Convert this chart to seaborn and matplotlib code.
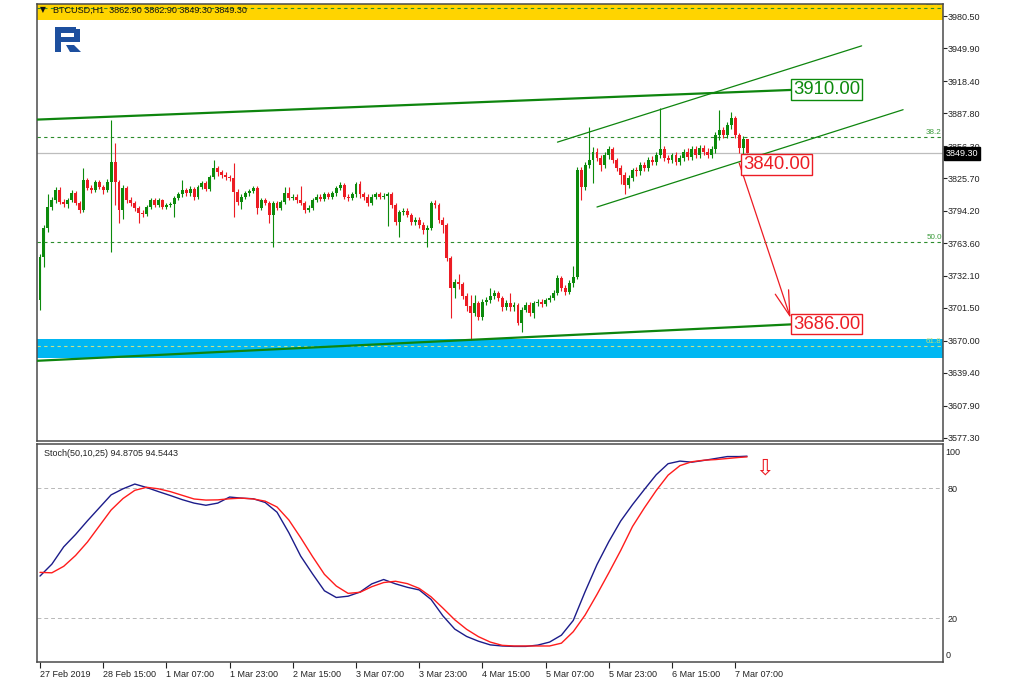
import matplotlib
matplotlib.use("Agg")
import numpy as np
import matplotlib.pyplot as plt
import matplotlib.transforms as mtrans
from matplotlib import font_manager
from matplotlib.patches import Rectangle, Polygon
import seaborn as sns

# ---------------- data ----------------
x_labels = ["27 Feb 2019", "28 Feb 15:00", "1 Mar 07:00", "1 Mar 23:00", "2 Mar 15:00",
            "3 Mar 07:00", "3 Mar 23:00", "4 Mar 15:00", "5 Mar 07:00", "5 Mar 23:00",
            "6 Mar 15:00", "7 Mar 07:00"]
x_label_bars = [0, 16, 32, 48, 64, 80, 96, 112, 128, 144, 160, 176]

first_open = 3709.0
close = [3750, 3778, 3798, 3805, 3814, 3803, 3801, 3805, 3811, 3802,
         3795, 3824, 3816, 3814, 3822, 3817, 3814, 3822, 3841, 3822,
         3795, 3816, 3805, 3802, 3797, 3792, 3791, 3798, 3805, 3800,
         3805, 3798, 3800, 3801, 3807, 3810, 3814, 3811, 3815, 3808,
         3817, 3821, 3815, 3827, 3835, 3831, 3829, 3827, 3826, 3812,
         3803, 3808, 3811, 3813, 3816, 3797, 3805, 3802, 3790, 3802,
         3797, 3803, 3811, 3807, 3808, 3805, 3802, 3795, 3797, 3805,
         3808, 3806, 3810, 3808, 3811, 3816, 3819, 3808, 3807, 3810,
         3820, 3810, 3808, 3802, 3808, 3810, 3808, 3809, 3810, 3800,
         3784, 3793, 3794, 3790, 3784, 3786, 3781, 3776, 3778, 3802,
         3800, 3786, 3781, 3749, 3721, 3726, 3724, 3713, 3703, 3697,
         3706, 3693, 3707, 3709, 3713, 3716, 3711, 3702, 3706, 3702,
         3704, 3687, 3700, 3704, 3697, 3706, 3707, 3705, 3709, 3711,
         3716, 3730, 3721, 3717, 3725, 3731, 3833, 3817, 3838, 3843,
         3851, 3845, 3838, 3848, 3853, 3843, 3835, 3829, 3819, 3826,
         3833, 3832, 3838, 3835, 3843, 3841, 3848, 3853, 3845, 3843,
         3848, 3841, 3845, 3851, 3846, 3853, 3848, 3854, 3851, 3848,
         3853, 3867, 3872, 3867, 3876, 3883, 3867, 3854, 3862.9, 3849.3]
high = [3753, 3781, 3810, 3808, 3817, 3817, 3806, 3807, 3814, 3813,
        3804, 3835, 3826, 3819, 3824, 3824, 3819, 3825, 3881, 3859,
        3824, 3819, 3818, 3808, 3804, 3799, 3795, 3800, 3807, 3807,
        3807, 3806, 3802, 3803, 3809, 3812, 3824, 3816, 3818, 3817,
        3819, 3823, 3823, 3829, 3843, 3837, 3833, 3831, 3829, 3840,
        3815, 3810, 3813, 3815, 3818, 3818, 3807, 3807, 3804, 3804,
        3804, 3805, 3817, 3817, 3810, 3810, 3818, 3804, 3800, 3807,
        3810, 3810, 3812, 3812, 3813, 3818, 3822, 3821, 3810, 3812,
        3822, 3823, 3812, 3810, 3810, 3812, 3812, 3811, 3812, 3812,
        3802, 3795, 3797, 3797, 3792, 3788, 3788, 3784, 3781, 3804,
        3805, 3802, 3788, 3783, 3751, 3729, 3734, 3726, 3716, 3714,
        3714, 3708, 3710, 3712, 3721, 3719, 3718, 3713, 3709, 3716,
        3707, 3706, 3702, 3707, 3707, 3708, 3710, 3710, 3711, 3714,
        3719, 3733, 3732, 3723, 3728, 3742, 3836, 3836, 3841, 3874,
        3855, 3854, 3848, 3851, 3856, 3855, 3845, 3838, 3831, 3829,
        3835, 3836, 3841, 3841, 3846, 3847, 3851, 3893, 3856, 3848,
        3850, 3851, 3848, 3853, 3854, 3856, 3856, 3857, 3857, 3854,
        3856, 3870, 3891, 3874, 3879, 3889, 3885, 3869, 3866, 3862.9]
low = [3700, 3741, 3774, 3795, 3802, 3801, 3798, 3797, 3803, 3800,
       3792, 3793, 3814, 3811, 3812, 3815, 3810, 3812, 3755, 3800,
       3783, 3787, 3802, 3799, 3794, 3783, 3788, 3789, 3796, 3798,
       3798, 3796, 3796, 3798, 3788, 3805, 3808, 3809, 3809, 3805,
       3806, 3815, 3813, 3813, 3825, 3828, 3826, 3824, 3823, 3788,
       3800, 3796, 3806, 3809, 3811, 3791, 3795, 3800, 3783, 3760,
       3795, 3795, 3801, 3805, 3805, 3802, 3800, 3792, 3793, 3795,
       3803, 3804, 3804, 3806, 3806, 3809, 3814, 3806, 3804, 3805,
       3808, 3807, 3805, 3799, 3800, 3806, 3806, 3806, 3780, 3797,
       3781, 3769, 3790, 3788, 3781, 3781, 3778, 3772, 3760, 3776,
       3797, 3783, 3773, 3746, 3692, 3711, 3720, 3710, 3699, 3671,
       3694, 3690, 3690, 3704, 3706, 3710, 3708, 3699, 3700, 3699,
       3699, 3685, 3679, 3698, 3694, 3692, 3703, 3702, 3703, 3707,
       3709, 3714, 3718, 3714, 3715, 3722, 3729, 3805, 3814, 3835,
       3821, 3842, 3832, 3835, 3844, 3840, 3832, 3820, 3810, 3816,
       3823, 3828, 3829, 3832, 3832, 3838, 3838, 3845, 3842, 3840,
       3840, 3838, 3838, 3842, 3843, 3843, 3845, 3845, 3848, 3845,
       3845, 3850, 3862, 3864, 3864, 3873, 3864, 3850, 3842, 3849.3]

price_ticks = [3980.50, 3949.90, 3918.40, 3887.80, 3856.30, 3825.70, 3794.20,
               3763.60, 3732.10, 3701.50, 3670.00, 3639.40, 3607.90, 3577.30]
last_price = 3849.30

fib_names = ["23.6", "38.2", "50.0", "61.8"]
fib_prices = [3988.0, 3864.6, 3764.9, 3665.2]

resistance_zone = [3976.7, 3995.0]
support_zone = [3654.0, 3671.5]

# trend / channel lines: (bar, price) end points
upper_line_bars, upper_line_prices = [-1, 191], [3881.5, 3910.0]
lower_line_bars, lower_line_prices = [-1, 191], [3651.0, 3686.0]
chan_top_bars, chan_top_prices = [131, 208], [3860.0, 3952.0]
chan_bot_bars, chan_bot_prices = [141, 218.5], [3798.0, 3891.0]
arrow_bars, arrow_prices = [177, 190], [3840.0, 3692.0]
target_prices = {"3910.00": 3910.0, "3840.00": 3838.6, "3686.00": 3686.2}

# stochastic (50,10,25), sampled every 3 bars plus the last bar
stoch_bars = list(range(0, 178, 3)) + [179]
stoch_main = [39.5, 45, 53, 58.7, 65, 71, 77, 79.8, 82, 80.4,
              78.5, 76.7, 74.8, 73.2, 72.2, 73.2, 76, 75.5, 75.2, 73.5,
              69, 59.5, 48.7, 40.5, 32.7, 29.6, 30.2, 32.1, 35.9, 37.9,
              35.9, 34.3, 33.1, 28.7, 21.1, 15, 11.6, 9.4, 7.7, 7.2,
              7, 7, 7.6, 9, 12.2, 19, 32.3, 44.8, 55.4, 64.9,
              72.5, 79.5, 86.3, 91.4, 92.6, 92.1, 92.9, 93.8, 94.7, 94.7, 94.8705]
stoch_signal = [41.2, 41, 44, 49, 55.2, 62.6, 70, 75.3, 79.1, 80.5,
                79.8, 78.5, 76.8, 75.1, 74.6, 74.7, 75.2, 75.5, 75.1, 74.1,
                71.4, 65.4, 57.2, 48.5, 40.3, 34.9, 31.5, 32, 34.6, 36.5,
                37.1, 36, 33.8, 29.9, 24.7, 19.3, 14.9, 11.5, 9, 7.5,
                7.2, 7.2, 7.2, 7.2, 8.5, 13.8, 21.5, 31, 41, 51.3,
                62.4, 71, 79, 86.1, 90.5, 92.3, 93, 93.3, 93.8, 94.3, 94.5443]
stoch_levels = [20, 80]

# ---------------- style ----------------
sns.set_style("white")
installed = {f.name for f in font_manager.fontManager.ttflist}
base_font = "Liberation Sans" if "Liberation Sans" in installed else "DejaVu Sans"
plt.rcParams["font.family"] = [base_font, "DejaVu Sans"]

GREEN = "#0c8a0c"
RED = "#ec1c24"
LINE_GREEN = "#0e850e"
FRAME = "#4a4a4a"

W, H = 1024, 683
fig = plt.figure(figsize=(W / 100, H / 100), dpi=100)


def px_box(x0, y0, x1, y1):
    return [x0 / W, 1 - y1 / H, (x1 - x0) / W, (y1 - y0) / H]


ax = fig.add_axes(px_box(37, 4, 943, 441))
ax2 = fig.add_axes(px_box(37, 444, 943, 662), sharex=ax)

# ---------------- price panel ----------------
bars = np.arange(len(close))
c = np.array(close, dtype=float)
o = np.concatenate([[first_open], c[:-1]])
hi = np.array(high, dtype=float)
lo = np.array(low, dtype=float)
up = c >= o
colors = np.where(up, GREEN, RED)

ax.axhspan(*resistance_zone, color="#ffd400", lw=0, zorder=0)
ax.axhspan(*support_zone, color="#00b7f2", lw=0, zorder=0)

for name, p in zip(fib_names, fib_prices):
    col = "#c6e28a" if name == "61.8" else "#2c8c2c"
    ax.axhline(p, color=col, lw=0.8, ls=(0, (3, 3)), zorder=1)
    ax.text(228.3, p + 0.8, name, ha="right", va="bottom", fontsize=5.8,
            color="#bde07a" if name == "61.8" else "#3a9a3a", zorder=2, clip_on=True)

ax.axhline(last_price, color="#bdbdbd", lw=0.9, zorder=1)

ax.vlines(bars, lo, hi, colors=colors, lw=0.8, zorder=3)
body = np.maximum(np.abs(c - o), 0.8)
ax.bar(bars, body, bottom=np.minimum(o, c), width=0.74, color=colors, lw=0, zorder=4)

ax.plot(upper_line_bars, upper_line_prices, color=LINE_GREEN, lw=1.6, zorder=5)
ax.plot(lower_line_bars, lower_line_prices, color=LINE_GREEN, lw=1.6, zorder=5)
ax.plot(chan_top_bars, chan_top_prices, color=LINE_GREEN, lw=0.9, zorder=5)
ax.plot(chan_bot_bars, chan_bot_prices, color=LINE_GREEN, lw=0.9, zorder=5)

ax.annotate("", xy=(arrow_bars[1], arrow_prices[1]), xytext=(arrow_bars[0], arrow_prices[0]),
            arrowprops=dict(arrowstyle="->,head_length=1.5,head_width=0.42", color=RED,
                            lw=0.9, mutation_scale=12, shrinkA=0, shrinkB=0), zorder=6)

label_pos = {"3910.00": (190.6, GREEN), "3840.00": (178.0, RED), "3686.00": (190.6, RED)}
for txt, p in target_prices.items():
    xb, col = label_pos[txt]
    ax.text(xb, p, txt, ha="left", va="center", fontsize=13.3, color=col, zorder=7,
            bbox=dict(boxstyle="square,pad=0.1", fc="white", ec=col, lw=1.0))

ax.set_xlim(-0.76, 228.6)
ax.set_ylim(3574.4, 3992.0)
ax.yaxis.tick_right()
ax.set_yticks(price_ticks)
ax.set_yticklabels([f"{v:.2f}" for v in price_ticks])
ax.tick_params(axis="y", direction="out", length=3, width=0.8, pad=0.6,
               labelsize=6.5, colors="#222222", right=True, left=False)
ax.tick_params(axis="x", bottom=False, labelbottom=False)

blend = mtrans.blended_transform_factory(ax.transAxes, ax.transData)
ax.text(1.003, last_price, f"{last_price:.2f}", transform=blend, ha="left", va="center",
        fontsize=6.5, color="white", zorder=8,
        bbox=dict(boxstyle="square,pad=0.22", fc="black", ec="black"))

# ---------------- stochastic panel ----------------
for lv in stoch_levels:
    ax2.axhline(lv, color="#b8b8b8", lw=0.7, ls=(0, (4, 3)), zorder=1)
sns.lineplot(x=stoch_bars, y=stoch_main, ax=ax2, color="#1c1c8a", lw=1.0, zorder=3)
sns.lineplot(x=stoch_bars, y=stoch_signal, ax=ax2, color="#ff1c1c", lw=1.0, zorder=4)
ax2.set_ylim(-0.2, 100.5)
ax2.set_xlabel("")
ax2.set_ylabel("")
ax2.yaxis.tick_right()
ax2.set_yticks(stoch_levels)
ax2.set_yticklabels([str(v) for v in stoch_levels])
ax2.tick_params(axis="y", direction="out", length=0, pad=3, labelsize=6.5, colors="#222222")
blend2 = mtrans.blended_transform_factory(ax2.transAxes, ax2.transData)
ax2.text(1.003, 96.7, "100", transform=blend2, ha="left", va="center", fontsize=6.5, color="#222222")
ax2.text(1.003, 2.6, "0", transform=blend2, ha="left", va="center", fontsize=6.5, color="#222222")
ax2.text(0.008, 0.975, f"Stoch(50,10,25) {stoch_main[-1]:.4f} {stoch_signal[-1]:.4f}",
         transform=ax2.transAxes, ha="left", va="top", fontsize=6.5, color="#222222")
ax2.text(183.3, 89, "\u21e9", ha="center", va="center", fontsize=16, color=RED,
         family=["DejaVu Sans"])

ax2.set_xticks(x_label_bars)
ax2.set_xticklabels(x_labels, ha="left")
ax2.tick_params(axis="x", direction="out", length=4, width=0.8, pad=1.5,
                labelsize=6.5, colors="#222222", bottom=True)

for a in (ax, ax2):
    for sp in a.spines.values():
        sp.set_color(FRAME)
        sp.set_linewidth(1.1)
        sp.set_visible(True)

# ---------------- header and logo ----------------
fig.text(40 / W, 1 - 10 / H, "\u25bc", fontsize=5.5, va="center", ha="left", color="#111111",
         family=["DejaVu Sans"])
fig.text(53 / W, 1 - 10 / H, "BTCUSD,H1  3862.90 3862.90 3849.30 3849.30", fontsize=6.5,
         va="center", ha="left", color="#111111")

logo_col = "#1d4f9e"
for x0, y0, x1, y1 in [(55, 27, 61, 52), (55, 27, 76, 33), (74, 29, 80, 42), (61, 37, 78, 42)]:
    fig.add_artist(Rectangle((x0 / W, 1 - y1 / H), (x1 - x0) / W, (y1 - y0) / H,
                             transform=fig.transFigure, color=logo_col, lw=0))
fig.add_artist(Polygon([(66 / W, 1 - 45 / H), (74 / W, 1 - 45 / H), (81 / W, 1 - 52 / H), (70 / W, 1 - 52 / H)],
                       closed=True, transform=fig.transFigure, color=logo_col, lw=0))

fig.savefig("out.png", dpi=100)
